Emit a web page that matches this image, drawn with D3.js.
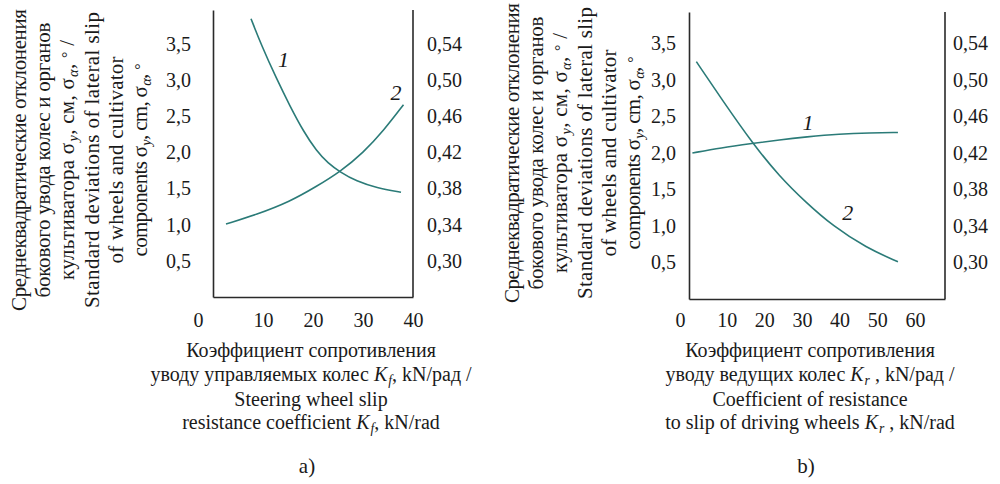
<!DOCTYPE html>
<html><head><meta charset="utf-8">
<script src="https://cdn.jsdelivr.net/npm/d3@7"></script>
<style>
body{margin:0;background:#fff}
svg{display:block}
text{font-family:"Liberation Serif","Times New Roman",serif;fill:#1a1a1a}
</style>
</head><body><svg id="c" width="1000" height="484" font-family="Liberation Serif, serif"></svg>
<script>
// ---- data ----
const xTicksA = [0, 10, 20, 30, 40];
const xTicksB = [0, 10, 20, 30, 40, 50, 60];
const yTicksLeft = [0.5, 1.0, 1.5, 2.0, 2.5, 3.0, 3.5];
const yTicksRight = [0.30, 0.34, 0.38, 0.42, 0.46, 0.50, 0.54];

// panel a) : Kf
const curveA1 = [[7.6,3.85],[9.7,3.48],[12.7,3.02],[15.4,2.64],[18.1,2.29],[20.7,2.02],[23.0,1.85],[25.4,1.73],[28.7,1.60],[32.7,1.51],[37.6,1.45]];
const curveA2 = [[2.6,1.01],[8.7,1.14],[15.4,1.32],[20.7,1.53],[25.4,1.73],[30.1,2.0],[34.1,2.30],[38.1,2.66]];
const curveLabelsA = [{t:"1", x:14.1, y:3.18}, {t:"2", x:36.6, y:2.72}];

// panel b) : Kr
const curveB1 = [[0.9,2.0],[8.5,2.07],[16.9,2.13],[24,2.18],[31.1,2.22],[40,2.26],[48,2.275],[55.5,2.28]];
const curveB2 = [[1.95,3.25],[8.9,2.72],[16.9,2.13],[24,1.68],[31.1,1.32],[38.2,1.0],[47.1,0.70],[55.5,0.51]];
const curveLabelsB = [{t:"1", x:31.6, y:2.31}, {t:"2", x:42.2, y:1.08}];

const yTitleLines = [
  [{t:"Среднеквадратические отклонения"}],
  [{t:"бокового увода колес и органов"}],
  [{t:"культиватора σ"},{t:"y",sub:1},{t:",  см, σ"},{t:"α",sub:1},{t:", "},{t:"°",sup:1},{t:" /"}],
  [{t:"Standard deviations of lateral slip"}],
  [{t:"of wheels and cultivator"}],
  [{t:"components σ"},{t:"y",sub:1},{t:", cm, σ"},{t:"α",sub:1},{t:", "},{t:"°",sup:1}]
];
const xTitleA = [
  [{t:"Коэффициент сопротивления"}],
  [{t:"уводу управляемых колес "},{t:"K",it:1},{t:"f",sub:1},{t:", kN/рад /"}],
  [{t:"Steering wheel slip"}],
  [{t:"resistance coefficient "},{t:"K",it:1},{t:"f",sub:1},{t:", kN/rad"}]
];
const xTitleB = [
  [{t:"Коэффициент сопротивления"}],
  [{t:"уводу ведущих колес "},{t:"K",it:1},{t:"r",sub:1},{t:" , kN/рад /"}],
  [{t:"Coefficient of resistance"}],
  [{t:"to slip of driving wheels "},{t:"K",it:1},{t:"r",sub:1},{t:" , kN/rad"}]
];

// ---- drawing ----
const svg = d3.select("#c");
const lineColor = "#2b7b78";
const axisColor = "#2a2a2a";

function addSegments(textSel, segs, fs){
  let shift = 0;
  segs.forEach(s => {
    const ts = textSel.append("tspan").text(s.t);
    let target = 0;
    if (s.sub) { ts.attr("font-size", fs*0.68).attr("font-style","italic").attr("dx", 1); target = fs*0.2; }
    else if (s.sup) { ts.attr("font-size", fs*0.75); target = -fs*0.05; }
    if (s.it) ts.attr("font-style","italic");
    const dy = target - shift;
    if (dy !== 0) ts.attr("dy", dy);
    shift = target;
  });
}

function panel(cfg){
  const g = svg.append("g");
  const x = d3.scaleLinear().domain(cfg.xDomain).range(cfg.xRange);
  const y = d3.scaleLinear().domain(cfg.yDomain).range(cfg.yRange);
  const yR = d3.scaleLinear().domain(cfg.yRDomain).range([y(0), y(3.5)]);
  const tfs = 20;

  // axes
  const ax = g.append("g").attr("transform", `translate(0,${y(0)})`)
    .call(d3.axisBottom(x).tickValues(cfg.xTicks).tickSize(0).tickPadding(cfg.xPad).tickFormat(d3.format("d")));
  ax.selectAll(".tick text").attr("dx", d => d === 0 ? cfg.zeroDx : 0);
  const ay = g.append("g").attr("transform", `translate(${x(0)},0)`)
    .call(d3.axisLeft(y).tickValues(yTicksLeft).tickSize(0).tickPadding(cfg.yPad).tickFormat(d => d3.format(".1f")(d).replace(".", ",")));
  const ar = g.append("g").attr("transform", `translate(${x(cfg.xDomain[1])},0)`)
    .call(d3.axisRight(yR).tickValues(yTicksRight).tickSize(0).tickPadding(cfg.yRPad).tickFormat(d => d3.format(".2f")(d).replace(".", ",")));
  ar.select(".domain").attr("d", `M0,${y(0)}V${y(cfg.yDomain[1])}`);
  [ax, ay, ar].forEach(a => {
    a.attr("font-family", null).attr("font-size", null);
    a.select(".domain").attr("stroke", axisColor).attr("stroke-width", 1.6);
    a.selectAll(".tick text").attr("fill", "#1a1a1a").attr("font-size", tfs);
  });

  // curves
  const line = d3.line().x(d => x(d[0])).y(d => y(d[1])).curve(d3.curveBasis);
  cfg.curves.forEach(c => g.append("path").attr("d", line(c)).attr("fill","none")
    .attr("stroke", lineColor).attr("stroke-width", 1.6));
  g.selectAll(".clab").data(cfg.labels).enter().append("text")
    .attr("x", d => x(d.x)).attr("y", d => y(d.y)).attr("text-anchor","middle")
    .attr("font-size", 22).attr("font-style","italic").text(d => d.t);

  // rotated y title
  yTitleLines.forEach((segs, i) => {
    const t = g.append("text").attr("font-size", 21).attr("text-anchor","middle")
      .attr("transform", `translate(${cfg.yTitleX[i]},${cfg.yTitleCY}) rotate(-90)`)
      .attr("textLength", cfg.yTitleLen[i]).attr("lengthAdjust","spacing");
    addSegments(t, segs, 21);
  });

  // x title
  cfg.xTitle.forEach((segs, i) => {
    const t = g.append("text").attr("font-size", 20).attr("text-anchor","middle")
      .attr("x", cfg.xTitleCX).attr("y", cfg.xTitleY[i]);
    addSegments(t, segs, 20);
  });
  g.append("text").attr("font-size", 21).attr("text-anchor","middle")
    .attr("x", cfg.xTitleCX - 4).attr("y", cfg.capY).text(cfg.cap);
}

panel({
  xDomain:[0,40], xRange:[213,413], yDomain:[0,3.97], yRange:[297,10], yRDomain:[0.26,0.54],
  xTicks:xTicksA, xPad:16, zeroDx:-15, yPad:22, yRPad:14,
  curves:[curveA1, curveA2], labels:curveLabelsA,
  yTitleX:[26,50,74,99,123,147], yTitleCY:160, yTitleLen:[302,275,240,296,207,193],
  xTitle:xTitleA, xTitleCX:311, xTitleY:[357,381,406,429], cap:"a)", capY:473
});
panel({
  xDomain:[0,68], xRange:[689,945], yDomain:[0,3.93], yRange:[299,12], yRDomain:[0.26,0.54],
  xTicks:xTicksB, xPad:14, zeroDx:-9, yPad:13, yRPad:8,
  curves:[curveB1, curveB2], labels:curveLabelsB,
  yTitleX:[519,543,567,592,616,640], yTitleCY:153, yTitleLen:[300,273,240,292,207,193],
  xTitle:xTitleB, xTitleCX:810, xTitleY:[357,381,406,429], cap:"b)", capY:473
});
</script>
</body></html>
